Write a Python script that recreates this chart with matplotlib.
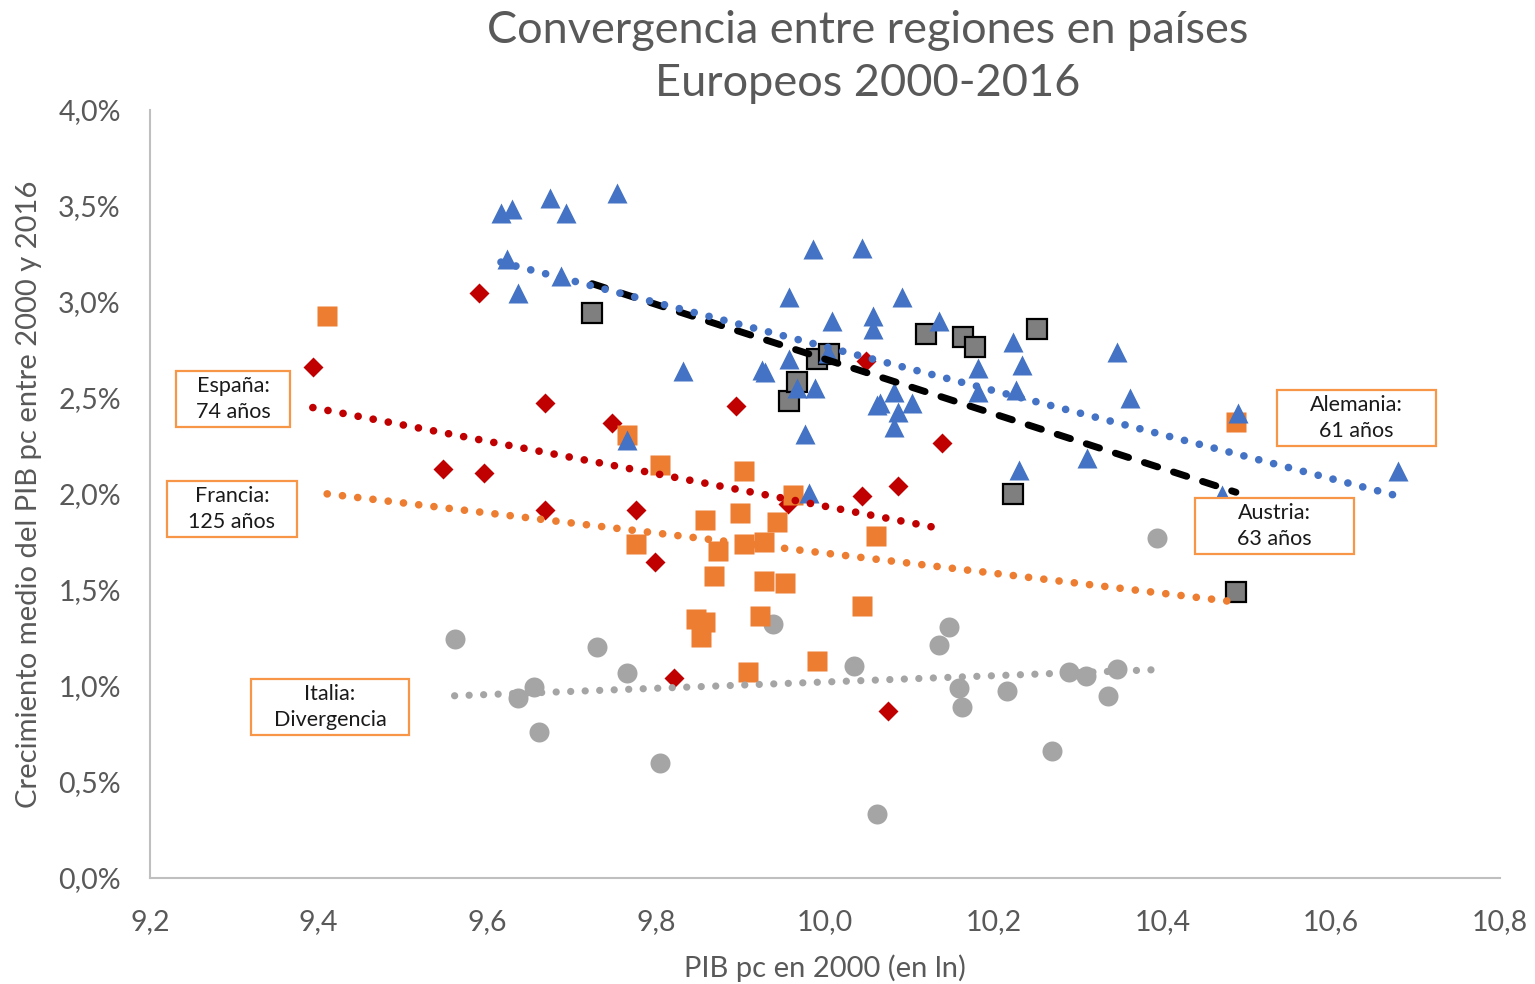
import numpy as np
import matplotlib
matplotlib.use("Agg")
import matplotlib.pyplot as plt
from matplotlib.patches import Rectangle

plt.rcParams.update({
    "font.family": ["Lato", "DejaVu Sans"],
    "font.weight": "normal",
})

# x: PIB pc en 2000 (ln), y: crecimiento medio anual (%)
alemania_x = [9.616, 9.629, 9.674, 9.693, 9.753, 9.623, 9.636, 9.687, 9.832, 9.765,
              9.986, 10.044, 9.957, 10.091, 10.008, 10.057, 10.057, 10.135, 9.957, 9.925,
              9.929, 10.004, 9.967, 9.988, 9.976, 10.065, 10.082, 10.062, 10.103, 10.087,
              10.082, 10.181, 10.181, 10.223, 10.233, 10.226, 10.346, 10.361, 10.311, 10.230,
              9.981, 10.489, 10.679, 10.471]
alemania_y = [3.464, 3.484, 3.542, 3.464, 3.568, 3.224, 3.047, 3.135, 2.641, 2.281,
              3.276, 3.281, 3.026, 3.026, 2.901, 2.927, 2.859, 2.901, 2.703, 2.646,
              2.635, 2.734, 2.552, 2.552, 2.313, 2.474, 2.531, 2.464, 2.474, 2.427,
              2.349, 2.656, 2.531, 2.792, 2.672, 2.542, 2.740, 2.500, 2.188, 2.125,
              2.005, 2.422, 2.120, 1.995]

austria_x = [9.724, 9.957, 9.967, 9.991, 10.005, 10.120, 10.164, 10.178, 10.251, 10.223, 10.487]
austria_y = [2.943, 2.484, 2.583, 2.703, 2.729, 2.833, 2.818, 2.766, 2.859, 2.000, 1.490]

espana_x = [9.590, 9.393, 9.668, 9.748, 9.895, 10.049, 10.139, 9.547, 9.596, 9.668,
            9.776, 9.956, 10.044, 10.087, 9.799, 9.821, 10.075]
espana_y = [3.047, 2.661, 2.474, 2.370, 2.458, 2.693, 2.266, 2.130, 2.109, 1.917,
            1.917, 1.948, 1.990, 2.042, 1.646, 1.042, 0.870]

francia_x = [9.410, 9.765, 9.804, 9.904, 9.962, 9.858, 9.899, 9.943, 9.776, 9.873,
             9.904, 9.928, 10.060, 9.868, 9.928, 9.953, 10.044, 9.847, 9.858, 9.853,
             9.923, 9.991, 9.909, 10.487]
francia_y = [2.927, 2.307, 2.151, 2.120, 1.995, 1.865, 1.901, 1.854, 1.740, 1.703,
             1.740, 1.750, 1.781, 1.573, 1.547, 1.536, 1.417, 1.349, 1.333, 1.255,
             1.365, 1.130, 1.073, 2.375]

italia_x = [9.561, 9.655, 9.636, 9.661, 9.730, 9.765, 9.804, 9.938, 10.034, 10.062,
            10.135, 10.147, 10.159, 10.162, 10.216, 10.269, 10.289, 10.309, 10.346, 10.335,
            10.393]
italia_y = [1.245, 0.995, 0.938, 0.760, 1.203, 1.068, 0.599, 1.323, 1.104, 0.333,
            1.214, 1.307, 0.990, 0.891, 0.974, 0.661, 1.073, 1.052, 1.089, 0.948,
            1.771]

x_ticks = [9.2, 9.4, 9.6, 9.8, 10.0, 10.2, 10.4, 10.6, 10.8]
y_ticks = [0.0, 0.5, 1.0, 1.5, 2.0, 2.5, 3.0, 3.5, 4.0]

W, H = 1535, 984
fig = plt.figure(figsize=(W / 100, H / 100), dpi=100)
ax = fig.add_axes([150 / W, 1 - 878 / H, 1350 / W, 768 / H])

grey_txt = "#595959"


def trend(ax, xs, ys, color, ls, lw, z):
    k, b = np.polyfit(xs, ys, 1)
    xx = np.array([min(xs), max(xs)])
    line, = ax.plot(xx, k * xx + b, color=color, lw=lw, zorder=z)
    line.set_linestyle(ls)
    line.set_dash_capstyle("round")
    return line


dots = (0, (0.01, 2.0))

ax.plot(italia_x, italia_y, "o", color="#A5A5A5", ms=14.4, mec="none", zorder=2)
ax.plot(espana_x, espana_y, "D", color="#C00000", ms=10.5, mec="none", zorder=2)
ax.plot(francia_x, francia_y, "s", color="#ED7D31", ms=14.4, mec="none", zorder=3)
ax.plot(austria_x, austria_y, "s", color="#7F7F7F", ms=14.4, mec="black", mew=1.6, zorder=3)
ax.plot(alemania_x, alemania_y, "^", color="#4472C4", ms=14.4, mec="none", zorder=4)

trend(ax, italia_x, italia_y, "#A5A5A5", dots, 5.2, 5)
trend(ax, francia_x, francia_y, "#ED7D31", dots, 5.5, 5)
trend(ax, espana_x, espana_y, "#C00000", dots, 5.5, 5)
trend(ax, austria_x, austria_y, "black", (0, (2.0, 2.4)), 5.0, 5)
trend(ax, alemania_x, alemania_y, "#4472C4", dots, 5.5, 6)

ax.set_xlim(9.2, 10.8)
ax.set_ylim(0, 4.0)
ax.set_xticks(x_ticks)
ax.set_yticks(y_ticks)
ax.set_xticklabels([f"{v:.1f}".replace(".", ",") for v in x_ticks])
ax.set_yticklabels([f"{v:.1f}%".replace(".", ",") for v in y_ticks])
ax.tick_params(length=0, labelsize=20.5, labelcolor=grey_txt)
ax.tick_params(axis="x", pad=22)
ax.tick_params(axis="y", pad=21)
for s in ["top", "right"]:
    ax.spines[s].set_visible(False)
for s in ["left", "bottom"]:
    ax.spines[s].set_color("#BFBFBF")
    ax.spines[s].set_linewidth(1.5)

ax.set_xlabel("PIB pc en 2000 (en ln)", fontsize=21, color=grey_txt, labelpad=14)
ax.set_ylabel("Crecimiento medio del PIB pc entre 2000 y 2016", fontsize=21,
              color=grey_txt, labelpad=12)

fig.text(868 / W, 1 - 57 / H, "Convergencia entre regiones en países\nEuropeos 2000-2016",
         ha="center", va="center", fontsize=32.5, color=grey_txt, linespacing=1.36)

boxes = [
    ("España:\n74 años", 176, 371, 114, 56),
    ("Francia:\n125 años", 167, 481, 130, 56),
    ("Italia:\nDivergencia", 251, 679, 158, 56),
    ("Alemania:\n61 años", 1277, 390, 159, 56),
    ("Austria:\n63 años", 1195, 498, 159, 56),
]
for label, bx, by, bw, bh in boxes:
    fig.add_artist(Rectangle((bx / W, 1 - (by + bh) / H), bw / W, bh / H,
                             transform=fig.transFigure, facecolor="white",
                             edgecolor="#F79646", lw=1.6, zorder=10))
    fig.text((bx + bw / 2) / W, 1 - (by + bh / 2) / H, label, ha="center", va="center",
             fontsize=15.5, color="#1a1a1a", linespacing=1.4, zorder=11)

fig.savefig("out.png", dpi=100, facecolor="white")
